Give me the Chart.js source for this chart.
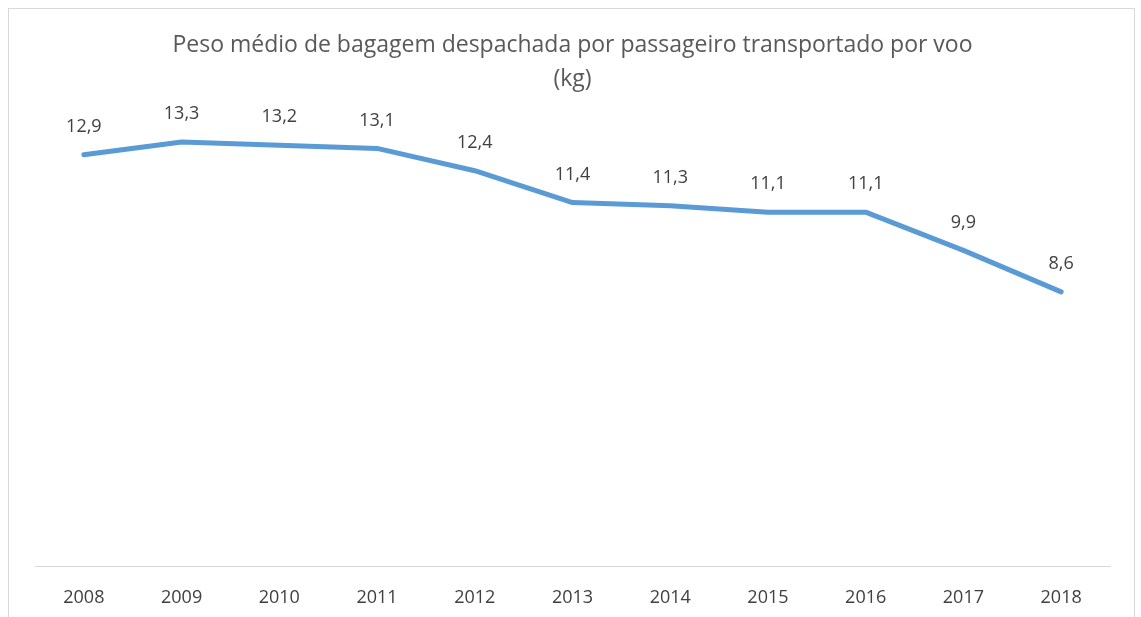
<!DOCTYPE html>
<html>
<head>
<meta charset="utf-8">
<script src="https://cdn.jsdelivr.net/npm/chart.js@4.4.1/dist/chart.umd.min.js"></script>
<style>
  html, body { margin: 0; padding: 0; background: #ffffff; }
  #frame { position: absolute; left: 8px; top: 8px; width: 1127px; height: 640px; border: 1px solid #d9d9d9; box-sizing: border-box; }
  #wrap { position: absolute; left: 0; top: 0; width: 1141px; height: 617px; }
</style>
</head>
<body>
<div id="frame"></div>
<div id="wrap"><canvas id="c" width="1141" height="617"></canvas></div>
<script>
const categories = ["2008", "2009", "2010", "2011", "2012", "2013", "2014", "2015", "2016", "2017", "2018"];
const pesoMedio = [12.9, 13.3, 13.2, 13.1, 12.4, 11.4, 11.3, 11.1, 11.1, 9.9, 8.6];
const titleLines = ["Peso médio de bagagem despachada por passageiro transportado por voo", "(kg)"];

const FONT = "'Open Sans', 'Noto Sans', sans-serif";

const labelPlugin = {
  id: 'valueLabels',
  afterDatasetsDraw(chart) {
    const ctx = chart.ctx;
    const meta = chart.getDatasetMeta(0);
    const data = chart.data.datasets[0].data;
    ctx.save();
    ctx.font = "18px " + FONT;
    ctx.fillStyle = "#404040";
    ctx.textAlign = "center";
    ctx.textBaseline = "middle";
    meta.data.forEach((pt, i) => {
      const txt = data[i].toFixed(1).replace('.', ',');
      ctx.fillText(txt, pt.x, pt.y - 28);
    });
    ctx.restore();
  }
};

new Chart(document.getElementById('c'), {
  type: 'line',
  data: {
    labels: categories,
    datasets: [{
      data: pesoMedio,
      borderColor: '#5b9bd5',
      borderWidth: 5,
      borderCapStyle: 'round',
      borderJoinStyle: 'round',
      pointRadius: 0,
      tension: 0,
      fill: false,
      clip: false
    }]
  },
  options: {
    responsive: false,
    animation: false,
    layout: { padding: { left: 35, right: 31, top: 29, bottom: 10 } },
    plugins: {
      legend: { display: false },
      tooltip: { enabled: false },
      title: {
        display: true,
        text: titleLines,
        color: '#595959',
        font: { family: FONT, size: 23, weight: 'normal', lineHeight: 1.45 },
        padding: { top: 0, bottom: 24 }
      }
    },
    scales: {
      x: {
        offset: true,
        grid: { display: false, drawTicks: false },
        border: { display: true, color: '#d9d9d9', width: 1 },
        ticks: { color: '#404040', font: { family: FONT, size: 18 }, padding: 21, maxRotation: 0 },
        afterFit(scale) { scale.height = 41; }
      },
      y: {
        display: false,
        min: 0,
        max: 14
      }
    }
  },
  plugins: [labelPlugin]
});
</script>
</body>
</html>
